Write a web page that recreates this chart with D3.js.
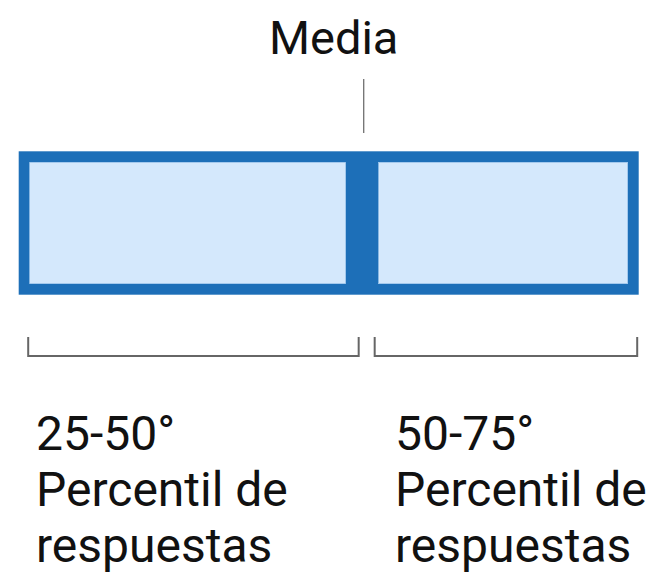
<!DOCTYPE html>
<html>
<head>
<meta charset="utf-8">
<script src="https://cdn.jsdelivr.net/npm/d3@7"></script>
<style>
  html, body { margin: 0; padding: 0; background: #fff; }
  svg { display: block; font-family: Roboto, "Noto Sans", sans-serif; }
</style>
</head>
<body>
<svg id="chart" width="668" height="577"></svg>
<script>
// Data (percent positions along the box)
const boxRange = [0, 100];
const medianValue = 55.4;
const medianLabel = "Media";
const segmentStarts = [0, 55.4];
const segmentEnds = [55.4, 100];
const rangeLabels = ["25-50°", "50-75°"];
const subLabels = [["Percentil de", "respuestas"], ["Percentil de", "respuestas"]];

const svg = d3.select("#chart");
const x = d3.scaleLinear().domain(boxRange).range([18.7, 638.7]);

const dark = "#1d6fb8";
const light = "#d4e8fc";
const border = 11;
const midHalf = 16.5;
const boxTop = 151.3, boxBottom = 294.7;

// outer dark box
svg.append("rect")
  .attr("x", x(boxRange[0])).attr("y", boxTop)
  .attr("width", x(boxRange[1]) - x(boxRange[0]))
  .attr("height", boxBottom - boxTop)
  .attr("fill", dark);

// light inner boxes
svg.selectAll("rect.seg").data(d3.range(segmentStarts.length)).join("rect")
  .attr("class", "seg")
  .attr("x", i => i === 0 ? x(segmentStarts[i]) + border : x(segmentStarts[i]) + midHalf)
  .attr("y", boxTop + border)
  .attr("width", i => {
    const x0 = i === 0 ? x(segmentStarts[i]) + border : x(segmentStarts[i]) + midHalf;
    const x1 = i === segmentStarts.length - 1 ? x(segmentEnds[i]) - border : x(segmentEnds[i]) - midHalf;
    return x1 - x0;
  })
  .attr("height", boxBottom - boxTop - 2 * border)
  .attr("fill", light)
  .attr("stroke", "#a9cdf0")
  .attr("stroke-width", 0.6);

// median tick line
svg.append("line")
  .attr("x1", x(medianValue) + 1.5).attr("x2", x(medianValue) + 1.5)
  .attr("y1", 79).attr("y2", 133)
  .attr("stroke", "#777").attr("stroke-width", 1.4);

svg.append("text")
  .attr("x", x(medianValue) - 28.5).attr("y", 54)
  .attr("text-anchor", "middle")
  .attr("font-size", 47).attr("fill", "#111")
  .text(medianLabel);

// brackets
const bracketStart = [x(segmentStarts[0]) + 9.5, x(segmentStarts[1]) + 12.5];
const bracketEnd = [x(segmentEnds[0]) - 3.5, x(segmentEnds[1]) - 1.5];
const bTop = 337, bBottom = 356;
svg.selectAll("path.bracket").data(d3.range(rangeLabels.length)).join("path")
  .attr("class", "bracket")
  .attr("d", i => `M${bracketStart[i]},${bTop}V${bBottom}H${bracketEnd[i]}V${bTop}`)
  .attr("fill", "none")
  .attr("stroke", "#666")
  .attr("stroke-width", 2);

// labels
const labelX = [36, 395];
const g = svg.selectAll("text.lbl").data(d3.range(rangeLabels.length)).join("text")
  .attr("class", "lbl")
  .attr("font-size", 48)
  .attr("fill", "#111");
g.each(function(i) {
  const t = d3.select(this);
  const lines = [rangeLabels[i]].concat(subLabels[i]);
  lines.forEach((ln, j) => {
    t.append("tspan").attr("x", labelX[i]).attr("y", 450 + j * 56).text(ln);
  });
});
</script>
</body>
</html>
